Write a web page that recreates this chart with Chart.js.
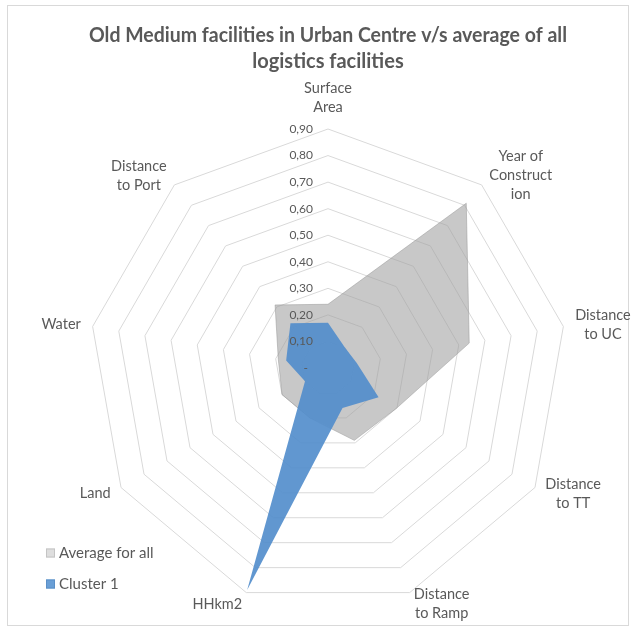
<!DOCTYPE html>
<html>
<head>
<meta charset="utf-8">
<script src="https://cdn.jsdelivr.net/npm/chart.js@4.4.1/dist/chart.umd.min.js"></script>
<style>
html,body{margin:0;padding:0;background:#fff;}
#wrap{position:relative;width:635px;height:631px;overflow:hidden;}
#frame{position:absolute;left:7px;top:5px;width:622px;height:621px;border:1px solid #d9d9d9;box-sizing:border-box;}
canvas{position:absolute;left:0;top:0;}
</style>
</head>
<body>
<div id="wrap"><div id="frame"></div><canvas id="c" width="635" height="631"></canvas></div>
<script>
const titleLines = ["Old Medium facilities in Urban Centre v/s average of all", "logistics facilities"];
const categories = [["Surface","Area"],["Year of","Construct","ion"],["Distance","to UC"],["Distance","to TT"],["Distance","to Ramp"],"HHkm2","Land","Water",["Distance","to Port"]];
const averageForAll = [0.24, 0.81, 0.54, 0.30, 0.29, 0.20, 0.20, 0.19, 0.31];
const cluster1 = [0.17, 0.10, 0.11, 0.22, 0.16, 0.89, 0.10, 0.16, 0.22];
const tickLabels = ["-", "0,10", "0,20", "0,30", "0,40", "0,50", "0,60", "0,70", "0,80", "0,90"];
const seriesNames = ["Average for all", "Cluster 1"];

const TEXT = '#595959';
const FONT = 'Lato, "Open Sans", sans-serif';

const overlay = {
  id: 'overlay',
  afterDraw(chart) {
    const ctx = chart.ctx, s = chart.scales.r;
    ctx.save();
    // tick labels
    ctx.fillStyle = TEXT;
    ctx.font = '12px ' + FONT;
    ctx.textAlign = 'right';
    ctx.textBaseline = 'middle';
    s.ticks.forEach((t) => {
      const y = s.yCenter - s.getDistanceFromCenterForValue(t.value);
      const x = t.label === '-' ? s.xCenter - 20 : s.xCenter - 15;
      ctx.fillText(t.label, x, y);
    });
    // point labels
    ctx.font = '14.5px ' + FONT;
    ctx.textAlign = 'center';
    const R = s.drawingArea + 12;
    const lh = 19;
    chart.data.labels.forEach((lab, i) => {
      const lines = Array.isArray(lab) ? lab : [lab];
      const p = s.getPointPosition(i, R);
      const w = Math.max(...lines.map(l => ctx.measureText(l).width));
      const dx = p.x - s.xCenter;
      let cx;
      if (Math.abs(dx) < 1) cx = p.x; else if (dx > 0) cx = p.x + w / 2; else cx = p.x - w / 2;
      let top;
      if (Math.abs(dx) < 1 && p.y < s.yCenter) top = p.y - lines.length * lh;
      else top = p.y - lines.length * lh / 2;
      lines.forEach((l, k) => ctx.fillText(l, cx, top + lh / 2 + k * lh));
    });
    // legend
    ctx.textAlign = 'left';
    ctx.font = '15px ' + FONT;
    const legendColors = ['#dedede', '#6a9fd6'];
    const legendBorders = ['#c4c4c4', '#5b8fc7'];
    seriesNames.forEach((name, k) => {
      const yc = 553 + k * 31;
      ctx.fillStyle = legendColors[k];
      ctx.fillRect(46, yc - 4.5, 9, 9);
      ctx.strokeStyle = legendBorders[k];
      ctx.lineWidth = 1;
      ctx.strokeRect(46.5, yc - 4, 8, 8);
      ctx.fillStyle = TEXT;
      ctx.fillText(name, 59, yc);
    });
    ctx.restore();
  }
};

new Chart(document.getElementById('c'), {
  type: 'radar',
  data: {
    labels: categories,
    datasets: [
      {
        label: seriesNames[0],
        data: averageForAll,
        backgroundColor: 'rgba(160,160,160,0.58)',
        borderColor: 'rgba(150,150,150,0.5)',
        borderWidth: 1,
        pointRadius: 0,
        fill: true,
        order: 2
      },
      {
        label: seriesNames[1],
        data: cluster1,
        backgroundColor: 'rgba(84,142,204,0.92)',
        borderColor: 'rgba(84,142,204,0.92)',
        borderWidth: 0,
        pointRadius: 0,
        fill: true,
        order: 1
      }
    ]
  },
  options: {
    responsive: false,
    animation: false,
    devicePixelRatio: 1,
    layout: { padding: { top: 5, left: 89, right: 68, bottom: 24 } },
    elements: { line: { tension: 0 } },
    plugins: {
      legend: { display: false },
      tooltip: { enabled: false },
      title: {
        display: true,
        text: titleLines,
        color: TEXT,
        font: { family: FONT, size: 20, weight: 'bold', lineHeight: '26px' },
        padding: { top: 18, bottom: 54 }
      }
    },
    scales: {
      r: {
        min: 0,
        max: 0.9,
        beginAtZero: true,
        angleLines: { display: false },
        grid: { circular: false, color: '#d9d9d9', lineWidth: 1 },
        pointLabels: { display: false },
        ticks: {
          display: false,
          stepSize: 0.1,
          callback: (v, i) => tickLabels[i]
        }
      }
    }
  },
  plugins: [overlay]
});
</script>
</body>
</html>
